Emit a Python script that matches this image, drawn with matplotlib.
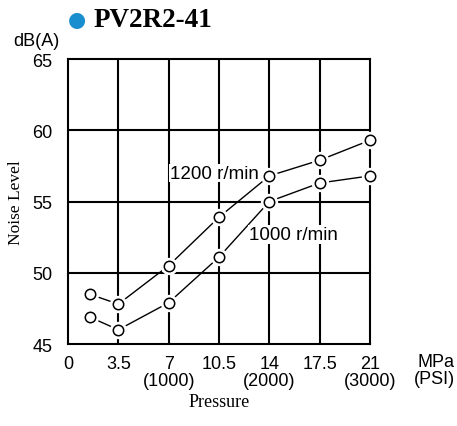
import matplotlib
matplotlib.use("Agg")
import matplotlib.pyplot as plt

# pressure in MPa
pressure = [1.5, 3.5, 7, 10.5, 14, 17.5, 21]
noise_1200 = [48.5, 47.8, 50.5, 53.9, 56.8, 57.9, 59.3]
noise_1000 = [46.9, 46.0, 47.9, 51.1, 55.0, 56.3, 56.8]

x_ticks = [0, 3.5, 7, 10.5, 14, 17.5, 21]
x_labels = ["0", "3.5", "7\n(1000)", "10.5", "14\n(2000)", "17.5", "21\n(3000)"]
y_ticks = [45, 50, 55, 60, 65]

sans = "Liberation Sans"
serif = "Liberation Serif"

fig = plt.figure(figsize=(4.57, 4.27), dpi=100)
ax = fig.add_axes([0.1488, 0.192, 0.6608, 0.6674])

ax.set_xlim(0, 21)
ax.set_ylim(45, 65)

# grid lines
for x in x_ticks[1:-1]:
    ax.axvline(x, color="black", lw=1.5, zorder=1)
for y in y_ticks[1:-1]:
    ax.axhline(y, color="black", lw=1.5, zorder=1)
for s in ax.spines.values():
    s.set_linewidth(1.5)

for ys in (noise_1200, noise_1000):
    ax.plot(pressure, ys, color="black", lw=1.0, zorder=2)
    # white halo makes small gaps round each marker
    ax.plot(pressure, ys, ls="none", marker="o", ms=11.5, mfc="white",
            mec="white", zorder=3, clip_on=False)
    ax.plot(pressure, ys, ls="none", marker="o", ms=7.5, mfc="white",
            mec="black", mew=1.1, zorder=4, clip_on=False)

ax.text(10.2, 57.0, "1200 r/min", family=sans, fontsize=13.5, ha="center",
        va="center", zorder=5,
        bbox=dict(facecolor="white", edgecolor="none", pad=0.5))
ax.text(15.66, 52.7, "1000 r/min", family=sans, fontsize=13.5, ha="center",
        va="center", zorder=5,
        bbox=dict(facecolor="white", edgecolor="none", pad=0.5))

ax.set_xticks(x_ticks)
ax.set_xticklabels(x_labels, family=sans, fontsize=13, va="top",
                   linespacing=1.0)
ax.set_yticks(y_ticks)
ax.set_yticklabels([str(v) for v in y_ticks], family=sans, fontsize=13)
ax.tick_params(axis="x", length=0, pad=8)
ax.tick_params(axis="y", length=0, pad=11)

ax.text(1.28, -0.03, "MPa\n(PSI)", transform=ax.transAxes, family=sans,
        fontsize=13, ha="right", va="top", multialignment="right",
        linespacing=1.0)
ax.text(-0.027, 1.035, "dB(A)", transform=ax.transAxes, family=sans,
        fontsize=13, ha="right", va="bottom")

ax.set_xlabel("Pressure", family=serif, fontsize=13, labelpad=3)
ax.set_ylabel("Noise Level", family=serif, fontsize=12.5, labelpad=6)

# title with blue dot
fig.text(0.168, 0.953, "\u25cf", color="#1a8fd0", fontsize=15,
         ha="center", va="center", family="DejaVu Sans")
fig.text(0.205, 0.952, "PV2R2-41", family=serif, fontsize=19.5,
         fontweight="bold", ha="left", va="center")

fig.savefig("out.png", dpi=100)
